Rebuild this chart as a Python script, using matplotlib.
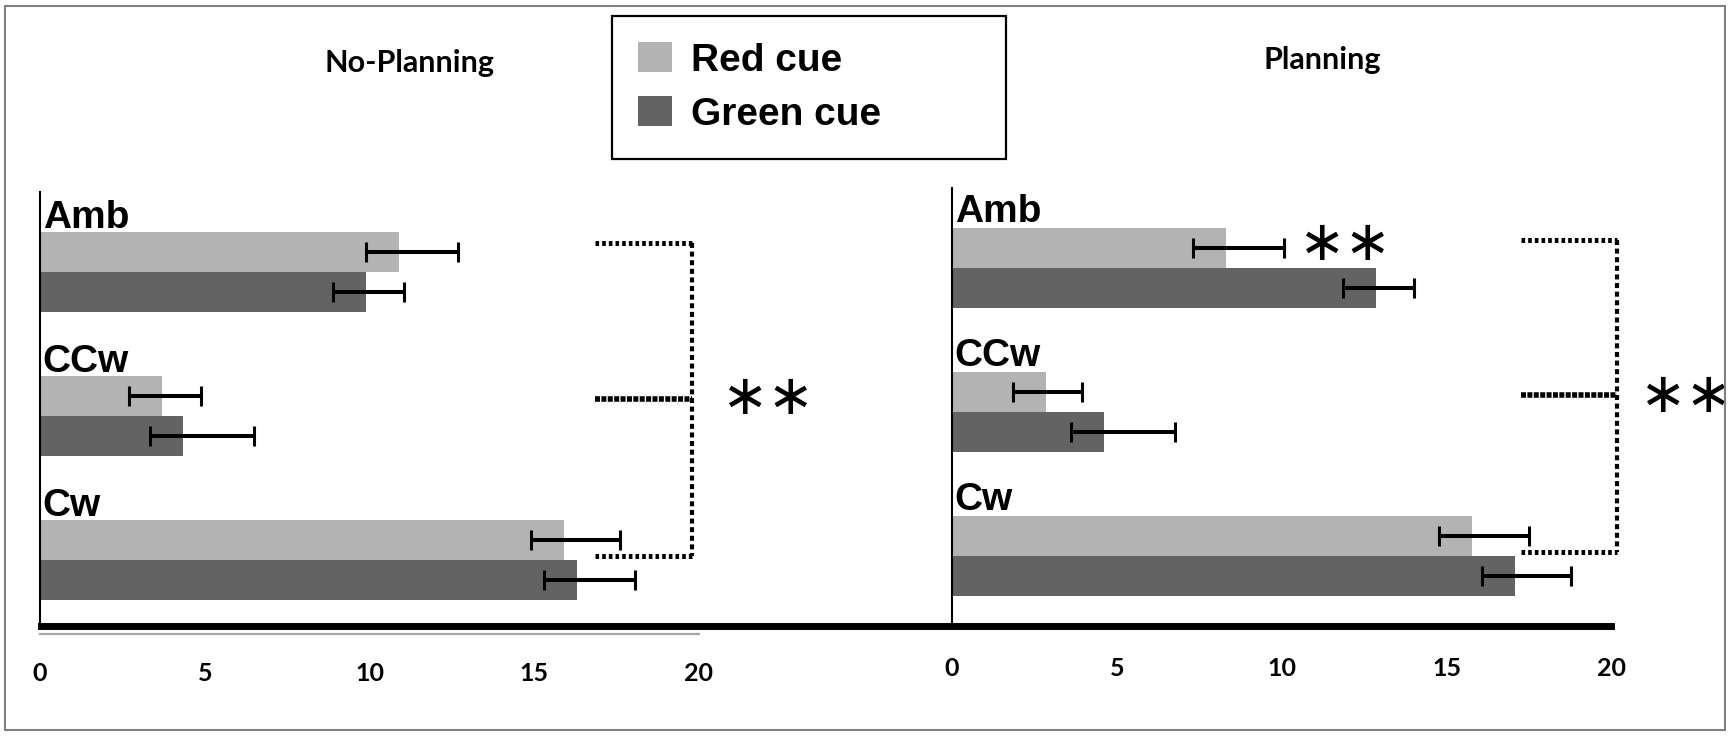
import matplotlib
matplotlib.use("Agg")
import matplotlib.pyplot as plt
from matplotlib.lines import Line2D
from matplotlib.patches import Rectangle

# ---- data ----
categories = ["Amb", "CCw", "Cw"]
series_names = ["Red cue", "Green cue"]

noplan_red = [10.9, 3.7, 15.9]
noplan_green = [9.9, 4.35, 16.3]
noplan_red_lo = [1.0, 1.0, 1.0]
noplan_red_hi = [1.8, 1.2, 1.7]
noplan_green_lo = [1.0, 1.0, 1.0]
noplan_green_hi = [1.15, 2.15, 1.75]

plan_red = [8.3, 2.85, 15.75]
plan_green = [12.85, 4.6, 17.05]
plan_red_lo = [1.0, 1.0, 1.0]
plan_red_hi = [1.75, 1.1, 1.75]
plan_green_lo = [1.0, 1.0, 1.0]
plan_green_hi = [1.15, 2.15, 1.7]

xticks = [0, 5, 10, 15, 20]

RED_COL = "#b3b3b3"
GREEN_COL = "#636363"

plt.rcParams["lines.scale_dashes"] = False

W, H = 1733, 738
fig = plt.figure(figsize=(W / 100, H / 100), dpi=100)
fig.patch.set_facecolor("white")

TICK_FONT = ["Lato", "DejaVu Sans"]
LABEL_FONT = ["Liberation Sans", "DejaVu Sans"]


def px_axes(x0, x20, top, bot):
    return fig.add_axes([x0 / W, 1 - bot / H, (x20 - x0) / W, (bot - top) / H])


def draw_panel(ax, red, green, red_lo, red_hi, green_lo, green_hi, label_gap,
               show_bottom, pad):
    if show_bottom:
        ax.spines["bottom"].set_position(("outward", 4.3))
        ax.spines["bottom"].set_color("#a6a6a6")
        ax.spines["bottom"].set_linewidth(1.6)
    else:
        ax.spines["bottom"].set_visible(False)

    pitch = 3.6
    red_y = [1.5 + pitch * i for i in range(len(categories))]
    green_y = [y + 1.0 for y in red_y]
    br = ax.barh(red_y, red, height=1.0, color=RED_COL, label=series_names[0])
    bg = ax.barh(green_y, green, height=1.0, color=GREEN_COL, label=series_names[1])
    ax.errorbar(red, red_y, xerr=[red_lo, red_hi], fmt="none", ecolor="black",
                elinewidth=2.9, capsize=7, capthick=2.2)
    ax.errorbar(green, green_y, xerr=[green_lo, green_hi], fmt="none", ecolor="black",
                elinewidth=2.9, capsize=7, capthick=2.2)
    for cat, y in zip(categories, red_y):
        ax.text(0.08, y - 0.5 - label_gap, cat, ha="left", va="baseline",
                fontsize=28, fontweight="bold", family=LABEL_FONT)
    ax.set_xlim(0, 20)
    ax.set_ylim(10.9, 0)
    ax.set_yticks([])
    ax.set_xticks(xticks)
    ax.set_xticklabels([str(t) for t in xticks])
    ax.tick_params(axis="x", length=0, pad=pad)
    for s in ["top", "right"]:
        ax.spines[s].set_visible(False)
    ax.spines["left"].set_linewidth(1.5)
    ax.patch.set_alpha(0)
    return br, bg


def bracket(ax, x0, x1, y_top, y_mid, y_bot):
    ax.plot([x0, x1], [y_top, y_top], color="black", lw=3.6,
            linestyle=(0, (2.6, 2.2)), clip_on=False)
    ax.plot([x0, x1], [y_bot, y_bot], color="black", lw=3.6,
            linestyle=(0, (2.6, 2.2)), clip_on=False)
    ax.plot([x1, x1], [y_top, y_bot], color="black", lw=3.0,
            linestyle=(0, (3.6, 2.6)), clip_on=False)
    ax.plot([x0, x1], [y_mid, y_mid], color="black", lw=4.0,
            linestyle=(0, (3.6, 1.0)), clip_on=False)


def stars(ax, x, y):
    ax.text(x, y, "\u2217\u2217", ha="left", va="center", fontsize=40,
            family=["DejaVu Sans"], clip_on=False)


# ---- left panel: No-Planning ----
ax_l = px_axes(40, 699, 192, 628)
handles = draw_panel(ax_l, noplan_red, noplan_green, noplan_red_lo, noplan_red_hi,
                     noplan_green_lo, noplan_green_hi, 0.1, True, 20)
bracket(ax_l, 16.85, 19.8, 1.28, 5.18, 9.1)
stars(ax_l, 20.7, 5.18)

# ---- right panel: Planning ----
ax_r = px_axes(952, 1612, 188, 624)
draw_panel(ax_r, plan_red, plan_green, plan_red_lo, plan_red_hi,
           plan_green_lo, plan_green_hi, 0.15, False, 24)
bracket(ax_r, 17.25, 20.15, 1.3, 5.18, 9.1)
stars(ax_r, 20.85, 5.22)
stars(ax_r, 10.5, 1.43)

# thick baseline shared by both panels
fig.add_artist(Line2D([41 / W, 1611 / W], [1 - 626 / H, 1 - 626 / H],
                      transform=fig.transFigure, color="black", lw=5.0))

# titles
fig.text(410 / W, 1 - 63 / H, "No-Planning", ha="center", va="center",
         fontsize=22, fontweight="bold", family=TICK_FONT)
fig.text(1322 / W, 1 - 60 / H, "Planning", ha="center", va="center",
         fontsize=22, fontweight="bold", family=TICK_FONT)

# legend
leg = fig.legend(handles, series_names, loc="upper left",
                 bbox_to_anchor=(612 / W, 1 - 159 / H, 394 / W, 143 / H),
                 mode="expand", borderaxespad=0, frameon=True, fancybox=False,
                 handlelength=0.85, handleheight=0.8, handletextpad=0.5,
                 labelspacing=0.45, borderpad=0.68,
                 prop={"family": LABEL_FONT, "weight": "bold", "size": 28})
leg.get_frame().set_edgecolor("black")
leg.get_frame().set_linewidth(1.6)
leg.get_frame().set_alpha(1)

# outer border
fig.add_artist(Rectangle((5 / W, 1 - 730 / H), 1720 / W, 724 / H,
                         transform=fig.transFigure, fill=False,
                         edgecolor="#808080", lw=1.5))

# style tick labels last so nothing resets them
fig.canvas.draw()
for ax in (ax_l, ax_r):
    for lab in ax.get_xticklabels():
        lab.set_fontfamily(TICK_FONT)
        lab.set_fontweight("bold")
        lab.set_fontsize(18)

fig.savefig("out.png", dpi=100, facecolor="white")
